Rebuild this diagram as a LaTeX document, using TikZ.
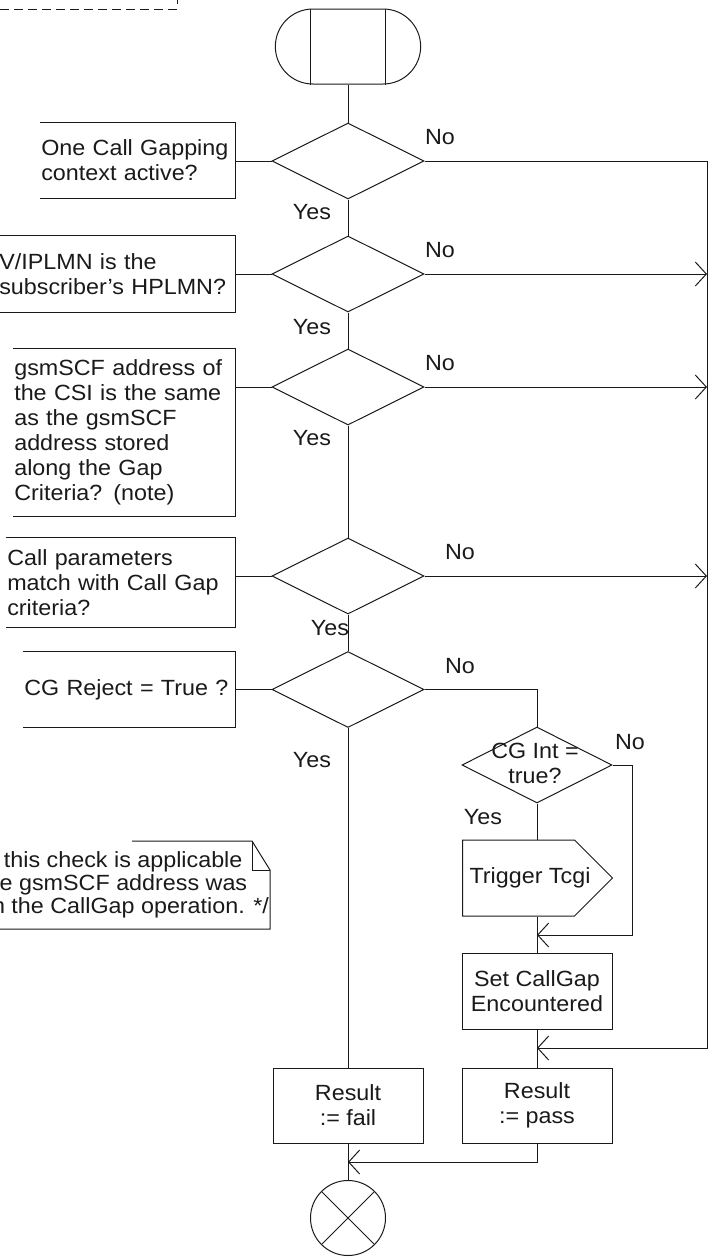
\documentclass[tikz,border=0pt]{standalone}
\usepackage{fontspec}
\setmainfont[FakeStretch=1.06]{Liberation Sans}
\usetikzlibrary{arrows.meta,positioning,shapes.geometric,shapes.misc,shapes.symbols}
\definecolor{sdlInk}{HTML}{1A1A1A}
\tikzset{
  every picture/.style={font=\fontsize{22}{25}\selectfont, text=sdlInk},
  sdl line/.style={draw=sdlInk, line width=1pt},
  sdl arrow/.style={sdl line, -{Straight Barb[length=11pt,width=24pt]}},
  sdl box/.style={sdl line, rectangle, minimum width=150pt, minimum height=75pt,
    align=center, inner sep=0pt},
  sdl decision/.style={sdl line, diamond, minimum width=152pt, minimum height=76pt, inner sep=0pt},
  sdl comment/.style={align=left, text width=#1, inner xsep=1.5pt, inner ysep=0pt, anchor=east},
  sdl label/.style={inner sep=0pt},
  sdl frame/.style={draw=sdlInk, line width=1pt, dash pattern=on 9pt off 5pt}
}
\begin{document}
\begin{tikzpicture}[x=1pt,y=-1pt]
  \useasboundingbox (0,0) rectangle (710,1259);
  \clip (0,0) rectangle (710,1259);
  \draw[sdl frame] (0,9) -- (177,9) -- (177,-12);
  \node[sdl line, rounded rectangle, minimum width=152pt, minimum height=75pt] (start) at (348,46.5) {};
  \foreach \s in {-1,1}
    \draw[sdl line] ([xshift=\s*37.5pt]start.north) -- ([xshift=\s*37.5pt]start.south);
  \node[sdl decision] (d1) at (348,161) {};
  \node[sdl decision] (d2) at (348,274) {};
  \node[sdl decision] (d3) at (348,387) {};
  \node[sdl decision] (d4) at (348,576) {};
  \node[sdl decision] (d5) at (348,689.5) {};
  \node[sdl decision, minimum width=150pt] (d6) at (537,765) {};
  \node[sdl label, align=center] (d6text) at (535,763) {CG Int =\\true?};
  \node[sdl comment=192pt, minimum height=75pt] (c1) at (235,160.5) {One Call Gapping\\context active?};
  \node[sdl comment=234pt, minimum height=76pt] (c2) at (235,274) {V/IPLMN is the\\subscriber's HPLMN?};
  \node[sdl comment=219pt, minimum height=167pt] (c3) at (235,432.5) {gsmSCF address of\\the CSI is the same\\as the gsmSCF\\address stored\\along the Gap\\Criteria? (note)};
  \node[sdl comment=226pt, minimum height=89pt] (c4) at (235,582.5) {Call parameters\\match with Call Gap\\criteria?};
  \node[sdl comment=209pt, minimum height=75pt] (c5) at (235,689.5) {CG Reject = True ?};
  \foreach \c/\d in {c1/d1,c2/d2,c3/d3,c4/d4,c5/d5} {
    \draw[sdl line] (\c.north west) -| (\c.south east) -- (\c.south west);
    \draw[sdl line] (\d.west) -- (\d.west -| \c.east);
  }
  \node[sdl line, signal, signal to=east, signal pointer angle=90, minimum width=150pt,
    minimum height=76pt, inner sep=0pt, anchor=west] (trig) at (462,878) {};
  \node[sdl label] (trigtext) at (530,878) {Trigger Tcgi};
  \node[sdl box, minimum height=76pt] (setgap) at (537,991) {Set CallGap\\Encountered};
  \node[sdl box] (fail) at (348,1105.5) {Result\\:= fail};
  \node[sdl box] (pass) at (537,1105.5) {Result\\:= pass};
  \node[sdl line, circle, minimum size=75pt, inner sep=0pt] (stop) at (348,1218) {};
  \draw[sdl line] (stop.north west) -- (stop.south east);
  \draw[sdl line] (stop.north east) -- (stop.south west);
  \node[sdl label] (yes1) at (312,212) {Yes};
  \node[sdl label] (yes2) at (312,327) {Yes};
  \node[sdl label] (yes3) at (312,438) {Yes};
  \node[sdl label] (yes4) at (330,628) {Yes};
  \node[sdl label] (yes5) at (312,760) {Yes};
  \node[sdl label] (yes6) at (483,817) {Yes};
  \node[sdl label] (no1) at (440,137) {No};
  \node[sdl label] (no2) at (440,250) {No};
  \node[sdl label] (no3) at (440,363) {No};
  \node[sdl label] (no4) at (460,552) {No};
  \node[sdl label] (no5) at (460,666) {No};
  \node[sdl label] (no6) at (630,742) {No};
  \coordinate (rail) at (707,1048);
  \coordinate (intno) at (632,935);
  \coordinate (endjoin) at (348,1162);
  \draw[sdl line] (start) -- (d1);
  \draw[sdl line] (d1) -- (d2);
  \draw[sdl line] (d2) -- (d3);
  \draw[sdl line] (d3) -- (d4);
  \draw[sdl line] (d4) -- (d5);
  \draw[sdl line] (d5) -- (fail);
  \draw[sdl line] (fail) -- (stop);
  \draw[sdl arrow] (d1.east) -| (rail) -- (rail -| pass.north);
  \foreach \d in {d2,d3,d4} \draw[sdl arrow] (\d.east) -- (\d.east -| rail);
  \draw[sdl line] (d5.east) -| (d6.north);
  \draw[sdl line] (d6.south) -- (d6.south |- trig.north);
  \draw[sdl arrow] (d6.east) -| (intno) -- (intno -| d6.south);
  \draw[sdl line] (setgap.north |- trig.south) -- (setgap.north);
  \draw[sdl line] (setgap) -- (pass);
  \draw[sdl arrow] (pass.south) |- (endjoin);
  \node[sdl label, align=center, font=\fontsize{22}{23}\selectfont] (note) at (80,885)
    {/* Note: this check is applicable\\only if the gsmSCF address was\\provided in the CallGap operation. */};
  \draw[sdl line] (132,841) -- (252,841) -- (270,870) -- (270,929) -- (-140,929);
  \draw[sdl line] (252,841) -- (252,870) -- (270,870);
\end{tikzpicture}
\end{document}
